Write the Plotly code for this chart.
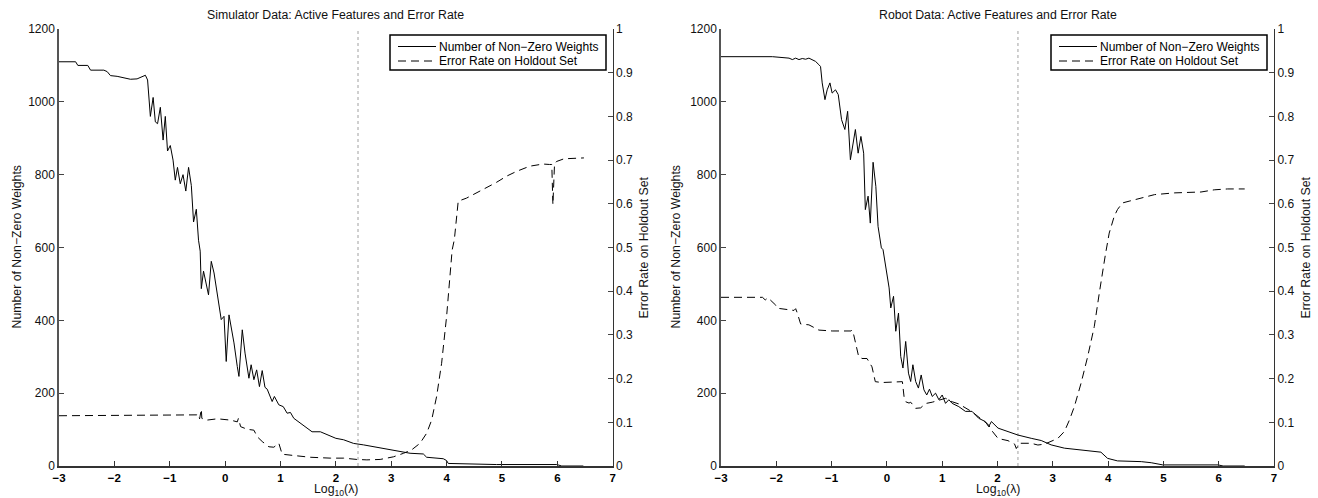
import plotly.graph_objects as go

# ---------------- data ----------------
x_ticks = [-3, -2, -1, 0, 1, 2, 3, 4, 5, 6, 7]
selected_log_lambda_sim = 2.40
selected_log_lambda_robot = 2.37
series_names = ["Number of Non\u2212Zero Weights", "Error Rate on Holdout Set"]

sim_w_x = [-3, -2.70, -2.66, -2.48, -2.43, -2.19, -2.13, -2.07, -1.95, -1.83, -1.71, -1.59, -1.50, -1.44,
           -1.40, -1.35, -1.30, -1.26, -1.22, -1.17, -1.12, -1.08, -1.04, -0.99, -0.94, -0.90, -0.86, -0.81,
           -0.76, -0.71, -0.66, -0.61, -0.57, -0.52, -0.48, -0.45, -0.43, -0.39, -0.30, -0.25, -0.20, -0.14,
           -0.07, -0.02, 0.02, 0.07, 0.16, 0.22, 0.25, 0.31, 0.36, 0.43, 0.47, 0.52, 0.57, 0.62, 0.67, 0.72,
           0.76, 0.85, 0.89, 0.97, 1.05, 1.12, 1.18, 1.24, 1.36, 1.45, 1.57, 1.72, 1.90, 2.0, 2.14, 2.32,
           2.50, 2.68, 2.92, 3.16, 3.34, 3.58, 3.64, 3.94, 4.00, 4.03, 4.21, 4.60, 4.9, 5.99, 6.08, 6.47]
sim_w_y = [1110, 1110, 1100, 1100, 1087, 1087, 1083, 1072, 1070, 1065, 1062, 1063, 1068, 1073,
           1060, 960, 1012, 945, 940, 985, 895, 960, 865, 880, 840, 785, 820, 775,
           800, 755, 820, 770, 670, 705, 620, 590, 487, 535, 470, 562, 530, 466,
           402, 411, 287, 415, 338, 273, 246, 374, 310, 241, 278, 237, 264, 218, 262, 216,
           211, 177, 191, 168, 163, 145, 147, 131, 117, 108, 94, 94, 83, 76, 72, 62,
           58, 53, 47, 39, 35, 33, 24, 20, 15, 7, 6, 5, 4, 4, 0, 0]

sim_e_x = [-3, -0.51, -0.50, -0.46, -0.43, -0.42, -0.33, -0.14, 0.10, 0.20, 0.22, 0.24, 0.28, 0.40,
           0.52, 0.58, 0.67, 0.79, 0.88, 0.97, 1.00, 1.03, 1.24, 1.54, 1.90, 2.14, 2.38, 2.56, 2.80,
           3.04, 3.22, 3.37, 3.52, 3.64, 3.73, 3.82, 3.91, 4.00, 4.06, 4.10, 4.14, 4.17, 4.21, 4.36,
           4.54, 4.72, 4.90, 5.08, 5.26, 5.50, 5.74, 5.86, 5.90, 5.92, 5.95, 5.99, 6.12, 6.48]
sim_e_y = [0.115, 0.117, 0.119, 0.108, 0.13, 0.109, 0.105, 0.108, 0.105, 0.103, 0.101, 0.109, 0.09, 0.084,
           0.082, 0.067, 0.056, 0.044, 0.043, 0.052, 0.04, 0.027, 0.024, 0.020, 0.018, 0.018, 0.015, 0.014,
           0.015, 0.021, 0.029, 0.037, 0.052, 0.075, 0.105, 0.159, 0.235, 0.342, 0.433, 0.494, 0.518, 0.564,
           0.606, 0.613, 0.625, 0.636, 0.649, 0.663, 0.674, 0.686, 0.691, 0.690, 0.690, 0.598, 0.693, 0.697,
           0.703, 0.705]

rob_w_x = [-3, -2.07, -1.77, -1.71, -1.65, -1.59, -1.53, -1.47, -1.41, -1.35, -1.29, -1.23, -1.20, -1.17,
           -1.12, -1.08, -1.03, -0.99, -0.93, -0.88, -0.82, -0.76, -0.71, -0.66, -0.57, -0.52, -0.47, -0.42,
           -0.39, -0.34, -0.30, -0.25, -0.20, -0.16, -0.10, -0.07, -0.02, 0.04, 0.07, 0.12, 0.16, 0.21,
           0.25, 0.29, 0.34, 0.39, 0.43, 0.47, 0.52, 0.57, 0.62, 0.67, 0.72, 0.77, 0.82, 0.88, 0.94, 1.00,
           1.06, 1.12, 1.18, 1.30, 1.42, 1.54, 1.66, 1.78, 1.84, 1.89, 2.01, 2.19, 2.37, 2.61, 2.79, 2.97,
           3.21, 3.51, 3.87, 3.99, 4.17, 4.60, 4.78, 4.99, 5.99, 6.08, 6.47]
rob_w_y = [1124, 1124, 1120, 1116, 1120, 1116, 1119, 1117, 1120, 1116, 1111, 1102, 1097, 1052,
           1006, 1033, 1052, 1024, 1033, 1020, 951, 924, 974, 841, 924, 859, 905, 859,
           704, 741, 667, 834, 768, 658, 599, 594, 549, 489, 434, 466, 370, 420,
           301, 269, 342, 255, 232, 278, 232, 214, 250, 209, 195, 211, 191, 200, 182, 195,
           172, 182, 172, 163, 150, 150, 131, 122, 108, 122, 104, 94, 85, 76, 70, 58,
           49, 44, 38, 21, 14, 12, 9, 3, 3, 0, 0]

rob_e_x = [-3, -2.25, -2.20, -2.15, -2.01, -1.98, -1.80, -1.68, -1.65, -1.62, -1.56, -1.41, -1.32, -1.23,
           -0.99, -0.65, -0.63, -0.60, -0.51, -0.45, -0.36, -0.27, -0.21, -0.09, 0.28, 0.31, 0.34, 0.40,
           0.43, 0.46, 0.52, 0.61, 0.70, 0.82, 0.94, 1.06, 1.18, 1.30, 1.54, 1.72, 1.84, 1.89, 2.01, 2.19,
           2.31, 2.34, 2.40, 2.61, 2.73, 2.85, 2.97, 3.09, 3.21, 3.30, 3.39, 3.51, 3.63, 3.75, 3.84, 3.90,
           3.95, 4.02, 4.11, 4.17, 4.26, 4.38, 4.60, 4.84, 5.20, 5.68, 5.92, 6.16, 6.47]
rob_e_y = [0.386, 0.386, 0.38, 0.385, 0.368, 0.361, 0.358, 0.356, 0.36, 0.35, 0.325, 0.323, 0.317, 0.311,
           0.309, 0.309, 0.311, 0.30, 0.25, 0.246, 0.246, 0.227, 0.193, 0.191, 0.193, 0.159, 0.147, 0.144,
           0.146, 0.142, 0.132, 0.133, 0.143, 0.146, 0.151, 0.155, 0.147, 0.142, 0.124, 0.105, 0.094, 0.082,
           0.063, 0.058, 0.050, 0.040, 0.052, 0.052, 0.048, 0.050, 0.056, 0.063, 0.079, 0.105, 0.136, 0.189,
           0.25, 0.319, 0.395, 0.449, 0.483, 0.533, 0.571, 0.587, 0.602, 0.606, 0.613, 0.621, 0.625, 0.627,
           0.632, 0.634, 0.634]

assert len(sim_w_x) == len(sim_w_y)
assert len(sim_e_x) == len(sim_e_y)
assert len(rob_w_x) == len(rob_w_y)
assert len(rob_e_x) == len(rob_e_y)

# ---------------- figure ----------------
W, H = 1318, 498
FONT = "Liberation Sans, Arial, Helvetica, sans-serif"
DASH = "8px,5px"
TICK_FS = 12
LABEL_FS = 12.3
LEGEND_FS = 12

fig = go.Figure()
fig.add_trace(go.Scatter(x=sim_w_x, y=sim_w_y, mode="lines", name=series_names[0],
                         line=dict(color="black", width=1), xaxis="x", yaxis="y"))
fig.add_trace(go.Scatter(x=sim_e_x, y=sim_e_y, mode="lines", name=series_names[1],
                         line=dict(color="black", width=1, dash=DASH), xaxis="x", yaxis="y2"))
fig.add_trace(go.Scatter(x=rob_w_x, y=rob_w_y, mode="lines", name=series_names[0],
                         line=dict(color="black", width=1), xaxis="x2", yaxis="y3"))
fig.add_trace(go.Scatter(x=rob_e_x, y=rob_e_y, mode="lines", name=series_names[1],
                         line=dict(color="black", width=1, dash=DASH), xaxis="x2", yaxis="y4"))

def px_x(p):
    return p / W

def px_y(p):
    return 1 - p / H

y_bot = px_y(466)
y_top = px_y(29)
dom_l = [px_x(59), px_x(612.7)]
dom_r = [px_x(721), px_x(1274)]

def xax(dom, anchor):
    return dict(domain=dom, anchor=anchor, range=[-3, 7], tickvals=x_ticks, ticks="inside", ticklen=5,
                tickwidth=1, tickcolor="#333", showline=True, linecolor="#333", linewidth=2,
                showgrid=False, zeroline=False, automargin=False,
                tickfont=dict(family=FONT, size=11.5, color="black", weight="bold"))

def yax_left(anchor):
    return dict(domain=[y_bot, y_top], anchor=anchor, range=[0, 1200], dtick=200, ticks="inside",
                ticklen=5, tickcolor="#444", showline=True, linecolor="#555", linewidth=1.5,
                showgrid=False, zeroline=False, automargin=False,
                tickfont=dict(family=FONT, size=TICK_FS, color="#111"))

def yax_right(anchor, over):
    return dict(domain=[y_bot, y_top], anchor=anchor, overlaying=over, side="right", range=[0, 1],
                dtick=0.1, ticks="inside", ticklen=5, tickcolor="#444", showline=True, linecolor="#333",
                linewidth=1, showgrid=False, zeroline=False, automargin=False,
                tickfont=dict(family=FONT, size=TICK_FS, color="#111"))

fig.update_layout(
    width=W, height=H, margin=dict(l=0, r=0, t=0, b=0, autoexpand=False),
    paper_bgcolor="white", plot_bgcolor="white",
    font=dict(family=FONT, size=12, color="black"),
    xaxis=xax(dom_l, "y"),
    yaxis=yax_left("x"),
    yaxis2=yax_right("x", "y"),
    xaxis2=xax(dom_r, "y3"),
    yaxis3=yax_left("x2"),
    yaxis4=yax_right("x2", "y3"),
    showlegend=False,
)

# selected-lambda reference lines
for xr, yr, xv in (("x", "y domain", selected_log_lambda_sim), ("x2", "y3 domain", selected_log_lambda_robot)):
    fig.add_shape(type="line", xref=xr, yref=yr, x0=xv, x1=xv, y0=0, y1=1,
                  line=dict(color="#a0a0a0", width=1, dash="dot"), layer="below")

ann_font = dict(family=FONT, size=LABEL_FS, color="#111")
titles = [("Simulator Data: Active Features and Error Rate", (dom_l[0] + dom_l[1]) / 2),
          ("Robot Data: Active Features and Error Rate", (dom_r[0] + dom_r[1]) / 2)]
for txt, xc in titles:
    fig.add_annotation(text=txt, x=xc, y=px_y(15), xref="paper", yref="paper", showarrow=False,
                       xanchor="center", yanchor="middle", font=ann_font)
    fig.add_annotation(text="Log<sub>10</sub>(\u03bb)", x=xc, y=px_y(490), xref="paper", yref="paper",
                       showarrow=False, xanchor="center", yanchor="middle", font=ann_font)

ymid = px_y(247.5)
for xc, txt in ((17, series_names[0]), (644, series_names[1]),
                (676, series_names[0]), (1306, series_names[1])):
    fig.add_annotation(text=txt, x=px_x(xc), y=ymid, xref="paper", yref="paper", showarrow=False,
                       textangle=-90, xanchor="center", yanchor="middle", font=ann_font)

# boxed legends (MATLAB style, compact rows)
for box_l, box_r in ((390, 606), (1051, 1267)):
    fig.add_shape(type="rect", xref="paper", yref="paper", x0=px_x(box_l), x1=px_x(box_r),
                  y0=px_y(70), y1=px_y(35), line=dict(color="black", width=1.5), fillcolor="white")
    for row_y, name, dash in ((46.5, series_names[0], "solid"), (61, series_names[1], DASH)):
        fig.add_shape(type="line", xref="paper", yref="paper", x0=px_x(box_l + 8), x1=px_x(box_l + 46),
                      y0=px_y(row_y), y1=px_y(row_y), line=dict(color="black", width=1, dash=dash))
        fig.add_annotation(text=name, x=px_x(box_l + 47), y=px_y(row_y), xref="paper", yref="paper",
                           showarrow=False, xanchor="left", yanchor="middle",
                           font=dict(family=FONT, size=LEGEND_FS, color="black"))

fig.write_html("out.html", config={"displayModeBar": False},
               post_script="document.body.style.margin='0';")
